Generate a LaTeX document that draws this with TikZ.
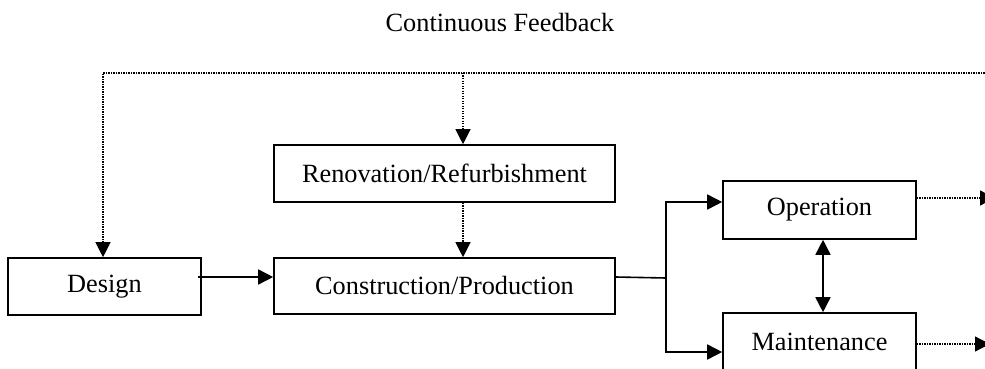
\documentclass[tikz,border=0pt]{standalone}
\usepackage{fontspec}
\setmainfont{Liberation Serif}
\usetikzlibrary{arrows.meta,calc}
\begin{document}
\begin{tikzpicture}[x=1pt,y=-1pt,
  txt/.style={font=\fontsize{26.3}{30}\selectfont},
  box/.style={draw,line width=1.6pt,inner sep=0pt,txt},
  solidline/.style={line width=1.6pt,line join=miter},
  tip/.style={-{Triangle[length=15pt,width=15pt]}},
  solidarrow/.style={solidline,tip},
  dotline/.style={line width=1.2pt,dash pattern=on 1.2pt off 1.3pt},
  dotarrow/.style={dotline,tip},
]
\useasboundingbox (0,0) rectangle (985,369);
\clip (0,0) rectangle (985,369);

% title
\node[txt,anchor=base] (title) at (500,32) {Continuous Feedback};

% stage boxes
\node[box,minimum width=193pt,minimum height=57pt] (des) at (104.5,286.5) {Design};
\node[box,minimum width=341pt,minimum height=56pt] (con) at (444.5,286) {Construction/Production};
\node[box,minimum width=341pt,minimum height=57pt] (ren) at (444.5,173.5) {Renovation/Refurbishment};
\node[box,minimum width=193pt,minimum height=58pt] (op) at (819.5,210) {Operation};
\node[box,minimum width=193pt,minimum height=58pt] (mnt) at (819.5,342) {Maintenance};

% continuous feedback loop
\coordinate (fbL) at (103,73);
\coordinate (fbM) at (463,73);
\coordinate (fbR) at (992,73);
\draw[dotarrow] (fbR) -- (fbL) -- (fbL |- des.north);
\draw[dotarrow] (fbM) -- (fbM |- ren.north);
\draw[dotarrow] (fbM |- ren.south) -- (fbM |- con.north);

% design to construction
\coordinate (dc) at (198,277);
\draw[solidarrow] (dc) -- (dc -| con.west);

% construction splits to operation and maintenance
\coordinate (sp) at (666,278);
\coordinate (spT) at (666,202);
\coordinate (spB) at (666,352);
\draw[solidline] (con.east |- dc) -- (sp);
\draw[solidarrow] (sp) -- (spT) -- (spT -| op.west);
\draw[solidarrow] (sp) -- (spB) -- (spB -| mnt.west);

% operation <-> maintenance
\coordinate (om) at (823,0);
\draw[solidline,{Triangle[length=15pt,width=15pt]}-{Triangle[length=15pt,width=15pt]}]
  (om |- op.south) -- (om |- mnt.north);

% outgoing feedback
\coordinate (oe) at (995,198);
\coordinate (me) at (990,344);
\draw[dotarrow] (op.east |- oe) -- (oe);
\draw[dotarrow] (mnt.east |- me) -- (me);
\end{tikzpicture}
\end{document}
